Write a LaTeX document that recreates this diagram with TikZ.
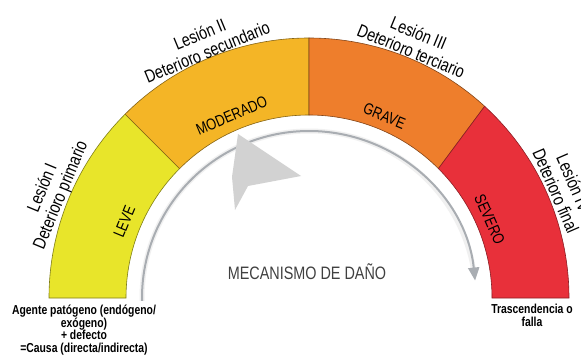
\documentclass[tikz,border=0pt]{standalone}
\usepackage{fontspec}
\setmainfont{Liberation Sans}[FakeStretch=0.8]
\usetikzlibrary{arrows.meta}
\definecolor{cyel}{HTML}{E8E52A}
\definecolor{camb}{HTML}{F4B526}
\definecolor{cora}{HTML}{EE7E2C}
\definecolor{cred}{HTML}{E8303A}
\definecolor{cgry}{HTML}{A9ADB2}
\begin{document}
\begin{tikzpicture}[x=1pt,y=1pt,
  seg/.style={line width=0.6pt},
  outerlbl/.style={font=\fontsize{18}{19.5}\selectfont, align=center, inner sep=0pt},
  innerlbl/.style={font=\fontsize{16}{16}\selectfont, inner sep=0pt},
  foot/.style={font=\bfseries\fontsize{13}{12.8}\selectfont, align=center, inner sep=0pt}]
\useasboundingbox (0,0) rectangle (581,357);
\fill[white] (0,0) rectangle (581,357);
\begin{scope}[shift={(309,59)}]
\coordinate (C) at (0,0);
% band segments
\filldraw[seg, fill=cyel, draw=cyel!55!black]
  (180:260) arc[start angle=180,end angle=135,radius=260] -- (135:183)
  arc[start angle=135,end angle=180,radius=183] -- cycle;
\filldraw[seg, fill=camb, draw=camb!55!black]
  (135:260) arc[start angle=135,end angle=90,radius=260] -- (90:183)
  arc[start angle=90,end angle=135,radius=183] -- cycle;
\filldraw[seg, fill=cora, draw=cora!55!black]
  (90:260) arc[start angle=90,end angle=47.5,radius=260] -- (45:183)
  arc[start angle=45,end angle=90,radius=183] -- cycle;
\filldraw[seg, fill=cred, draw=cred!60!black]
  (47.5:260) arc[start angle=47.5,end angle=0,radius=260] -- (0:183)
  arc[start angle=0,end angle=45,radius=183] -- cycle;
% grey mechanism arc
\draw[line width=5pt, gray!12] (181:167) arc[start angle=181,end angle=8,radius=167];
\draw[line width=2pt, cgry, -{Triangle[length=13pt,width=11pt]}]
  (181:167) coordinate (arcS) arc[start angle=181,end angle=6,radius=167] coordinate (arcE);
% outer labels
\node[outerlbl, rotate=67.5]  (l1) at (157.5:278) {Lesión I\\Deterioro primario};
\node[outerlbl, rotate=22.5]  (l2) at (112.5:276) {Lesión II\\Deterioro secundario};
\node[outerlbl, rotate=-22.5] (l3) at (67.5:277)  {Lesión III\\Deterioro terciario};
\node[outerlbl, rotate=-66.5] (l4) at (23.5:279)  {Lesión IV\\Deterioro final};
% inner labels
\node[innerlbl, rotate=67.5]  (s1) at (157.5:200) {LEVE};
\node[innerlbl, rotate=23]    (s2) at (113:198)   {MODERADO};
\node[innerlbl, rotate=-22.5] (s3) at (67.5:197)  {GRAVE};
\node[innerlbl, rotate=-66.5] (s4) at (23.5:197)  {SEVERO};
\end{scope}
% needle
\fill[gray!35] (238,223) -- (301,181) -- (248,171) -- (235,147) -- (232,180) -- cycle;
\node[font=\fontsize{18}{18}\selectfont, text=black!75, inner sep=0pt] (mec) at (307,85) {MECANISMO DE DAÑO};
\node[foot] (cause) at (84,27) {Agente patógeno (endógeno/\\exógeno)\\+ defecto\\=Causa (directa/indirecta)};
\node[foot] (fail) at (532,42) {Trascendencia o\\falla};
\end{tikzpicture}
\end{document}
